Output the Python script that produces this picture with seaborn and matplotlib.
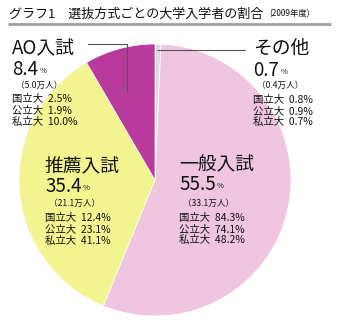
import matplotlib
matplotlib.use("Agg")
import matplotlib.pyplot as plt
import seaborn as sns

sns.set_theme(style="white")
plt.rcParams['font.family'] = ['Noto Sans CJK JP', 'DejaVu Sans']

# Data
categories = ["その他", "一般入試", "推薦入試", "AO入試"]
shares = [0.7, 55.5, 35.4, 8.4]
persons = ["0.4", "33.1", "21.1", "5.0"]
kokuritsu = ["0.8", "84.3", "12.4", "2.5"]
kouritsu = ["0.9", "74.1", "23.1", "1.9"]
shiritsu = ["0.7", "48.2", "41.1", "10.0"]
colors = ["#dcdcdc", "#f0c5e0", "#f2f590", "#b83a9c"]

W, H = 339, 322
fig = plt.figure(figsize=(W / 100, H / 100), dpi=100)

# Pie
cx, cy, r = 155, 180, 136
ax = fig.add_axes([(cx - r) / W, (H - cy - r) / H, 2 * r / W, 2 * r / H])
ax.pie(shares, colors=colors, startangle=90, counterclock=False,
       wedgeprops=dict(edgecolor="white", linewidth=0.5))
ax.set_xlim(-1, 1)
ax.set_ylim(-1, 1)
ax.axis("off")

# Overlay in pixel coords
ov = fig.add_axes([0, 0, 1, 1])
ov.set_xlim(0, W)
ov.set_ylim(H, 0)
ov.axis("off")
ov.patch.set_alpha(0)

tc = "#111111"
# Title
t = ov.text(9, 14, "グラフ1　選抜方式ごとの大学入学者の割合", fontsize=9.4,
            color=tc, va="center", ha="left")
ov.annotate("(2009年度)", xy=(1, 0.5), xycoords=t, xytext=(4, 0),
            textcoords="offset points", fontsize=6, va="center", ha="left", color=tc)
ov.plot([8, 331], [24, 24], color="#a0a0a0", lw=2, solid_capstyle="butt")

# Leader lines
ov.plot([88, 127, 127], [44, 44, 92], color="#555555", lw=0.8)
ov.plot([157, 245], [50, 50], color="#555555", lw=0.8)

# Label blocks: (index, x, y_title, y_pct, y_person, y_rows)
blocks = [
    (3, 12, 49, 69, 85, [99, 110, 122]),
    (0, 253, 48, 70, 85, [100, 111, 122]),
    (2, 45, 167, 186, 203, [218, 229, 241]),
    (1, 179, 165, 184, 203, [218, 229, 240]),
]
for i, x, yt, yp, yn, rows in blocks:
    ov.text(x, yt, categories[i], fontsize=13.5, color=tc, va="center", ha="left")
    p = ov.text(x, yp, f"{shares[i]:.1f}", fontsize=13.5, color=tc,
                va="center", ha="left")
    ov.annotate("%", xy=(1, 0.22), xycoords=p, xytext=(1, 0),
                textcoords="offset points", fontsize=5.5, va="bottom", ha="left", color=tc)
    ov.text(x + 4, yn, f"（{persons[i]}万人）", fontsize=6.2, color=tc,
            va="center", ha="left")
    for lab, vals, yy in zip(["国立大", "公立大", "私立大"],
                             [kokuritsu, kouritsu, shiritsu], rows):
        ov.text(x, yy, f"{lab}  {vals[i]}%", fontsize=7.5, color=tc,
                va="center", ha="left")

fig.savefig("out.png", dpi=100)
